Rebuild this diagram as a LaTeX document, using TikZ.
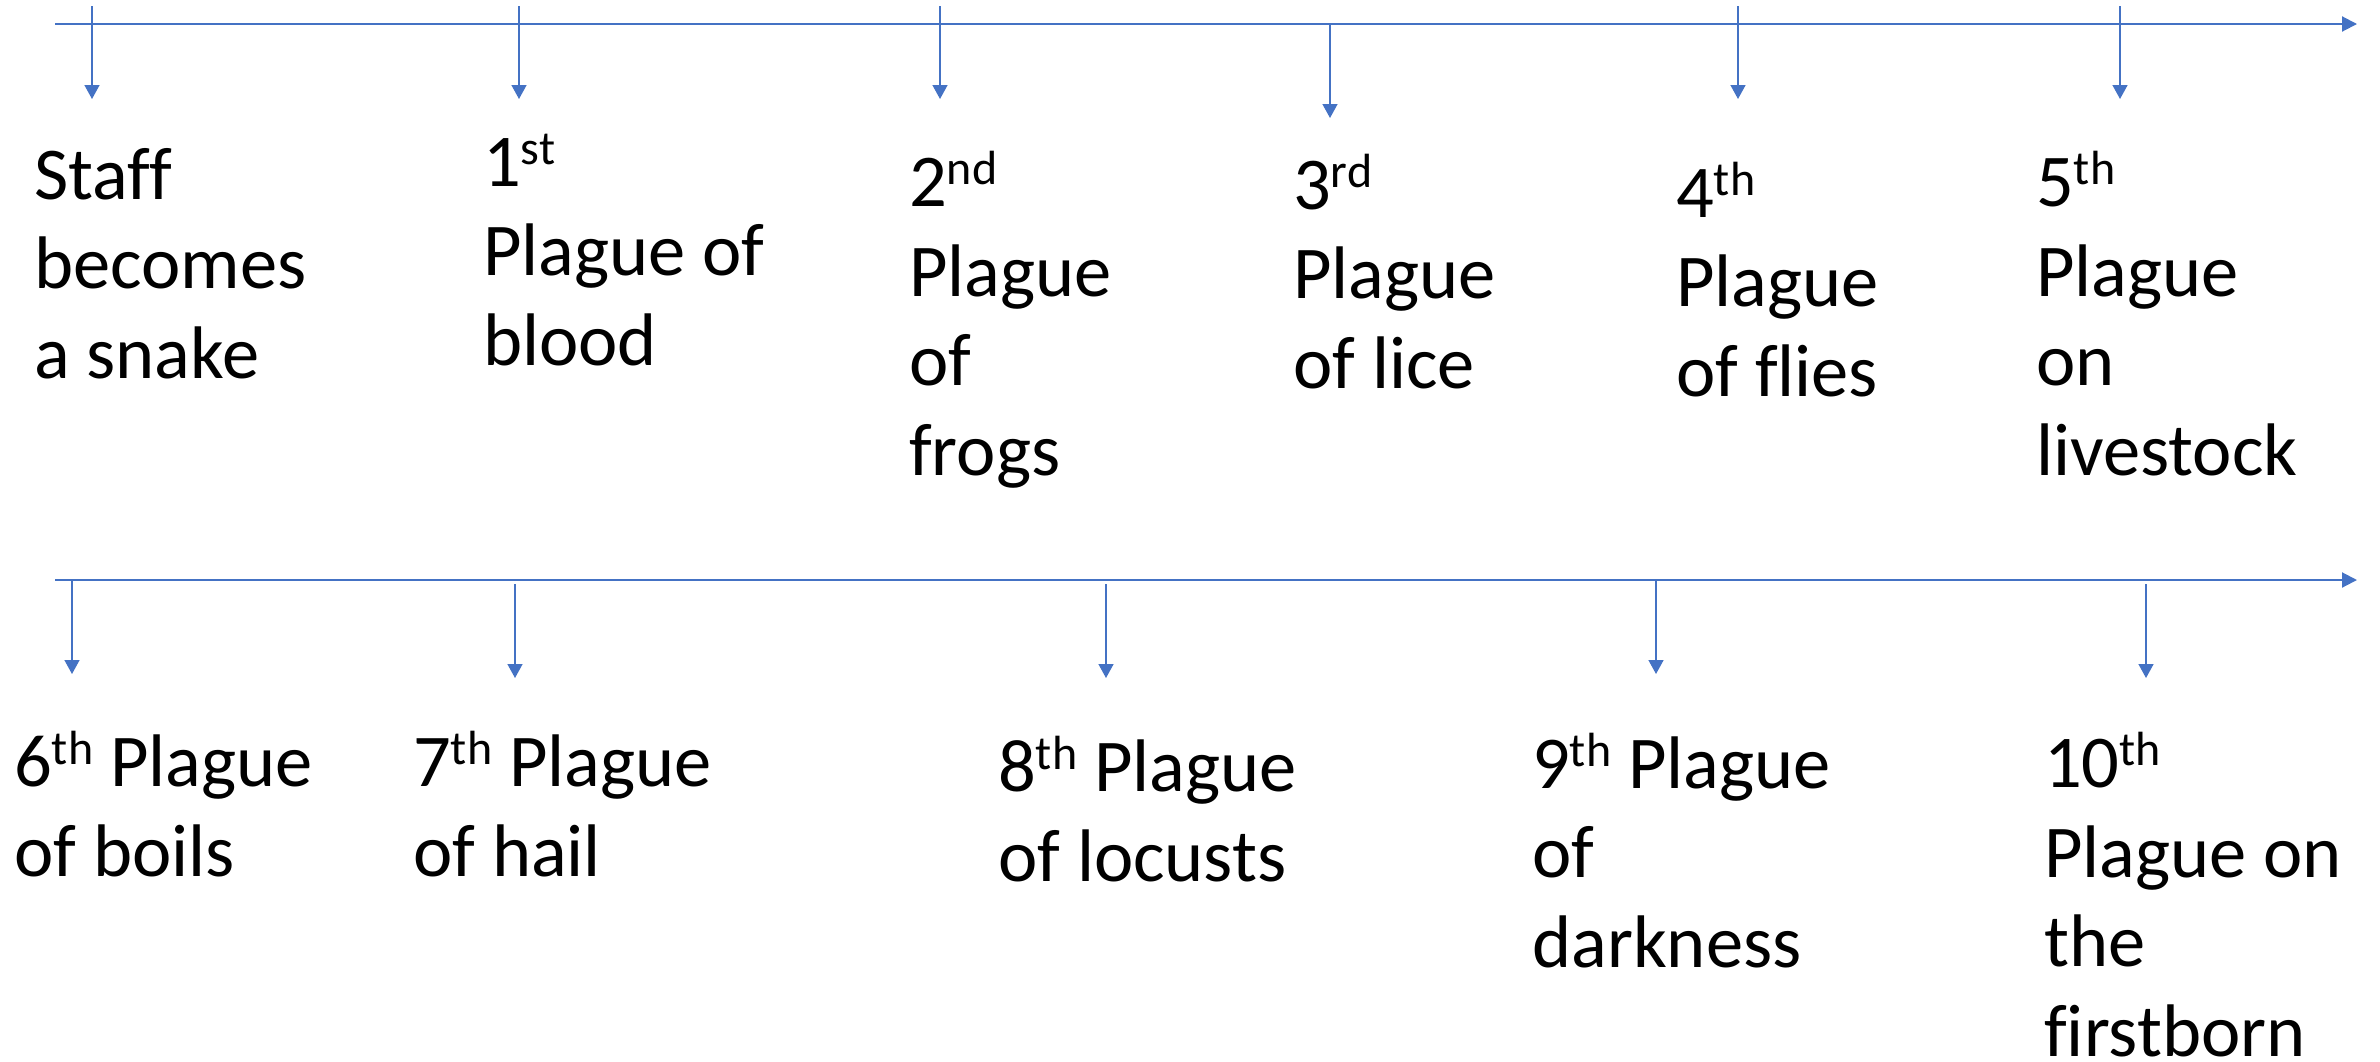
\documentclass[tikz,border=0pt]{standalone}
\usepackage{fontspec}
\setmainfont{Carlito}[Ligatures=NoCommon]
\usetikzlibrary{arrows.meta}
\definecolor{tlblue}{HTML}{4472C4}
\newcommand\sups[1]{\raisebox{22pt}{\fontsize{48}{48}\selectfont #1}}
\begin{document}
\begin{tikzpicture}[x=1pt,y=-1pt,
  axis/.style={draw=tlblue,line width=2pt,-{Triangle[length=15pt,width=15pt]}},
  tickarrow/.style={draw=tlblue,line width=1.5pt,-{Triangle[length=14pt,width=15pt]}},
  lbl/.style={anchor=base west,inner sep=0pt,align=left,font=\fontsize{74.5}{89.5}\selectfont}]
\useasboundingbox (0,0) rectangle (2380,1061);
% axes
\coordinate (a1s) at (55,24);
\coordinate (a1e) at (2357,24);
\coordinate (a2s) at (55,580);
\coordinate (a2e) at (2357,580);
\draw[axis] (a1s) -- (a1e);
\draw[axis] (a2s) -- (a2e);
% top ticks
\coordinate (t0s) at (92,6);    \coordinate (t0e) at (92,99);
\coordinate (t1s) at (519,6);   \coordinate (t1e) at (519,99);
\coordinate (t2s) at (940,6);   \coordinate (t2e) at (940,99);
\coordinate (t3s) at (1330,24); \coordinate (t3e) at (1330,118);
\coordinate (t4s) at (1738,6);  \coordinate (t4e) at (1738,99);
\coordinate (t5s) at (2120,6);  \coordinate (t5e) at (2120,99);
% bottom ticks
\coordinate (t6s) at (72,580);    \coordinate (t6e) at (72,674);
\coordinate (t7s) at (515,584);   \coordinate (t7e) at (515,678);
\coordinate (t8s) at (1106,584);  \coordinate (t8e) at (1106,678);
\coordinate (t9s) at (1656,580);  \coordinate (t9e) at (1656,674);
\coordinate (t10s) at (2146,584); \coordinate (t10e) at (2146,678);
\foreach \i in {0,...,10} {\draw[tickarrow] (t\i s) -- (t\i e);}
% labels (anchored at the baseline of the last line)
\node[lbl] (staff) at (34,378) {Staff\\becomes\\a snake};
\node[lbl] (p1) at (483,365) {1\sups{st}\\Plague of\\blood};
\node[lbl] (p2) at (909,475) {2\sups{nd}\\Plague\\of\\frogs};
\node[lbl] (p3) at (1293,388) {3\sups{rd}\\Plague\\of lice};
\node[lbl] (p4) at (1676,396) {4\sups{th}\\Plague\\of flies};
\node[lbl] (p5) at (2036,475) {5\sups{th}\\Plague\\on\\livestock};
\node[lbl] (p6) at (14,876) {6\sups{th} Plague\\of boils};
\node[lbl] (p7) at (413,876) {7\sups{th} Plague\\of hail};
\node[lbl] (p8) at (998,881) {8\sups{th} Plague\\of locusts};
\node[lbl] (p9) at (1532,967) {9\sups{th} Plague\\of\\darkness};
\node[lbl] (p10) at (2044,1056) {10\sups{th}\\Plague on\\the\\firstborn};
\end{tikzpicture}
\end{document}
